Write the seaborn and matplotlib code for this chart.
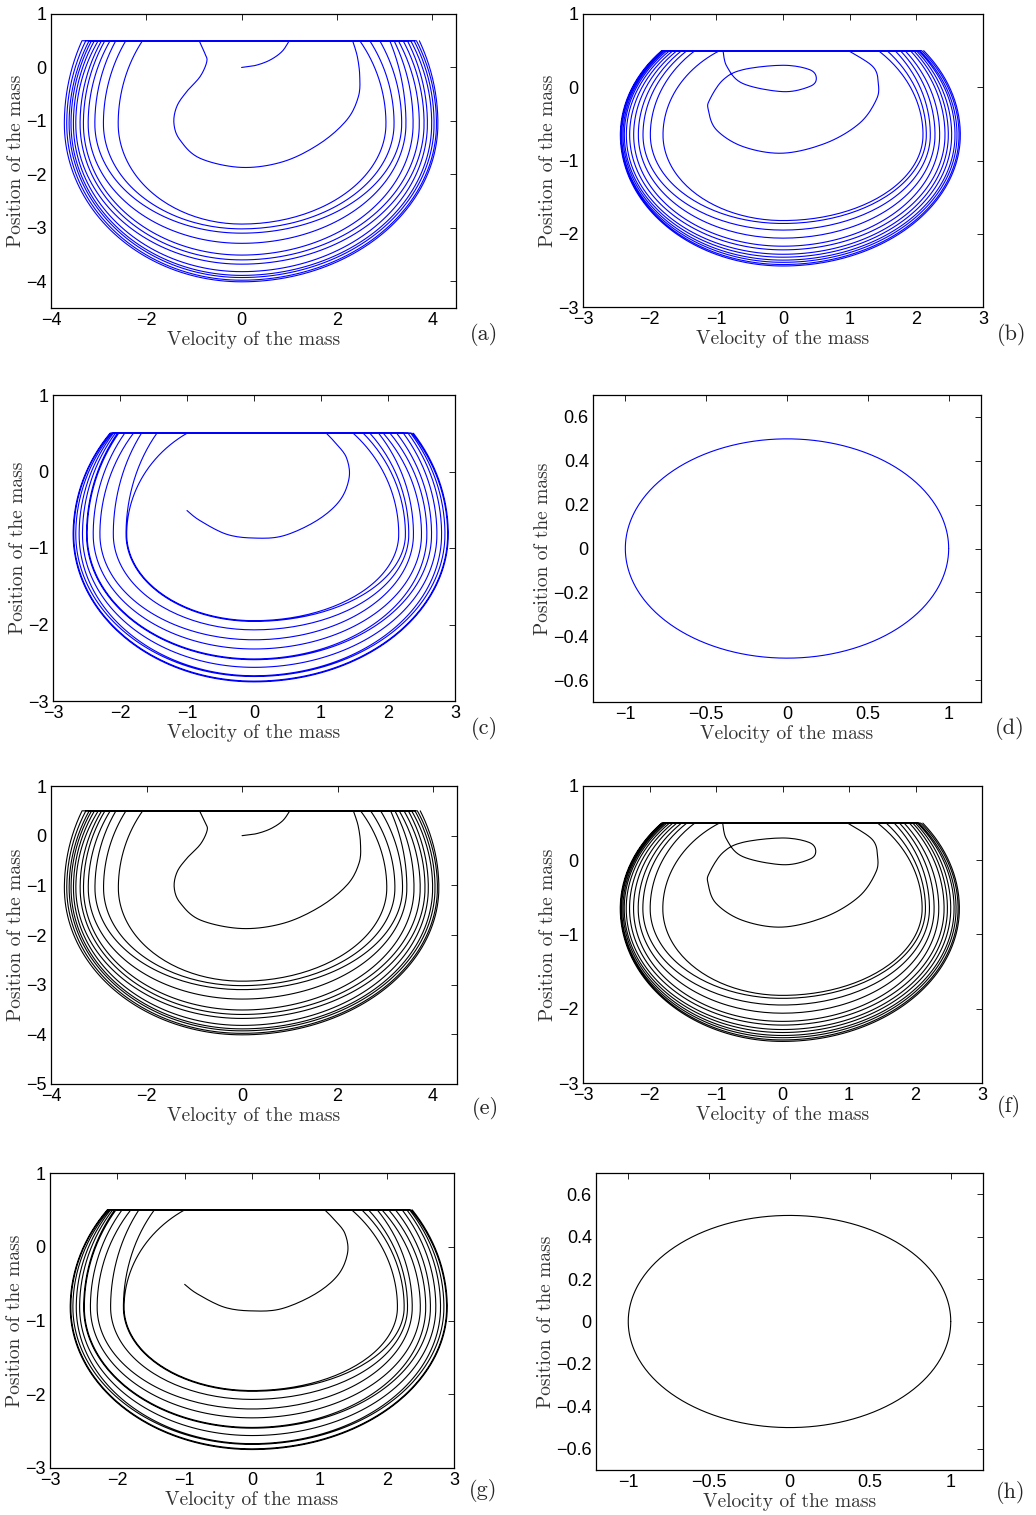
import numpy as np
import pandas as pd
import matplotlib
matplotlib.use("Agg")
import matplotlib.pyplot as plt
import seaborn as sns

# ---- values (velocity on x, position on y) ----
wall = 0.5  # impact position

# panel (a)/(e): start, transient loop, then rings inner -> outer
a_start_v = [0.0, 0.3, 0.6, 0.85, 1.0]
a_start_x = [0.0, 0.04, 0.14, 0.30, 0.5]
a_trans_v = [-0.89, -0.77, -0.73, -0.87, -1.15, -1.36, -1.42, -1.29, -0.87, 0.0,
             0.88, 1.65, 2.21, 2.45, 2.48, 2.43, 2.33]
a_trans_x = [0.5, 0.26, 0.11, -0.17, -0.45, -0.73, -1.05, -1.36, -1.70, -1.87,
             -1.76, -1.42, -0.98, -0.55, -0.17, 0.20, 0.5]
a_left_top = [-2.08, -2.43, -2.64, -2.76, -2.87, -2.94, -3.01, -3.09, -3.15, -3.20, -3.27, -3.35]
a_left_bulge = [-2.59, -2.90, -3.08, -3.22, -3.32, -3.39, -3.48, -3.53, -3.58, -3.62, -3.67, -3.72]
a_bottom = [-2.93, -3.02, -3.10, -3.29, -3.51, -3.60, -3.68, -3.82, -3.89, -3.93, -3.98, -4.01]
a_right_bulge = [3.03, 3.20, 3.36, 3.45, 3.60, 3.73, 3.83, 3.90, 3.99, 4.04, 4.09, 4.12]
a_right_top = [2.48, 2.69, 2.90, 3.11, 3.20, 3.29, 3.39, 3.48, 3.55, 3.62, 3.67, 3.73]
a_bulge_level = -1.05

# panel (b)/(f)
b_trans_v = [-0.90, -0.84, -0.60, 0.0, 0.40, 0.50, 0.40, 0.0, -0.60, -0.90, -1.10,
             -1.12, -1.0, -0.60, 0.0, 0.65, 1.15, 1.40, 1.43, 1.35, 0.98]
b_trans_x = [0.5, 0.28, 0.05, -0.06, 0.01, 0.12, 0.24, 0.30, 0.24, 0.10, -0.17,
             -0.31, -0.58, -0.81, -0.90, -0.76, -0.49, -0.17, 0.05, 0.28, 0.5]
b_left_top = [-0.95, -1.32, -1.44, -1.52, -1.59, -1.65, -1.70, -1.74, -1.77, -1.79, -1.81, -1.82]
b_left_bulge = [-1.80, -1.99, -2.10, -2.17, -2.24, -2.30, -2.35, -2.38, -2.40, -2.42, -2.43, -2.44]
b_bottom = [-1.82, -1.86, -1.95, -2.06, -2.17, -2.22, -2.28, -2.32, -2.36, -2.39, -2.42, -2.44]
b_right_bulge = [2.10, 2.15, 2.21, 2.28, 2.35, 2.43, 2.48, 2.53, 2.58, 2.61, 2.64, 2.66]
b_right_top = [1.43, 1.56, 1.68, 1.76, 1.83, 1.91, 1.96, 2.00, 2.03, 2.05, 2.08, 2.11]
b_bulge_level = -0.65

# panel (c)/(g)
c_trans_v = [-1.0, -0.81, -0.41, 0.0, 0.44, 0.94, 1.28, 1.42, 1.38, 1.23, 1.08]
c_trans_x = [-0.51, -0.64, -0.82, -0.87, -0.84, -0.64, -0.38, -0.08, 0.18, 0.36, 0.5]
c_left_top = [-1.0, -1.45, -1.68, -1.80, -1.93, -2.02, -2.04, -2.07, -2.10, -2.12, -2.14, -2.15]
c_left_bulge = [-1.90, -1.91, -2.10, -2.30, -2.40, -2.49, -2.50, -2.56, -2.61, -2.66, -2.69, -2.70]
c_bottom = [-1.95, -1.96, -2.07, -2.20, -2.32, -2.45, -2.46, -2.56, -2.67, -2.68, -2.74, -2.75]
c_right_bulge = [2.16, 2.26, 2.31, 2.38, 2.50, 2.58, 2.65, 2.73, 2.80, 2.85, 2.89, 2.90]
c_right_top = [1.48, 1.63, 1.73, 1.86, 1.93, 2.03, 2.13, 2.23, 2.30, 2.34, 2.36, 2.38]
c_bulge_level = -0.82

# panel (d)/(h): closed orbit
orbit_v_radius = 1.0
orbit_x_radius = 0.5


def smooth(v, x, k=10):
    # Catmull-Rom through the read points so the curve is drawn round, not angular
    P = np.column_stack([v, x])
    n = len(P)
    out = []
    for i in range(n - 1):
        p0, p1, p2, p3 = P[max(i - 1, 0)], P[i], P[i + 1], P[min(i + 2, n - 1)]
        for t in np.linspace(0, 1, k, endpoint=False):
            out.append(0.5 * (2 * p1 + (-p0 + p2) * t + (2 * p0 - 5 * p1 + 4 * p2 - p3) * t ** 2
                              + (-p0 + 3 * p1 - 3 * p2 + p3) * t ** 3))
    out.append(P[-1])
    out = np.array(out)
    return out[:, 0], out[:, 1]


def arc(vr, c, h, t0, t1, n=50):
    t = np.linspace(t0, t1, n)
    return vr * np.cos(t), c + h * np.sin(t)


def ring(L, vl, B, vr, R, c):
    # one flight between two impacts, built from the read extents
    hl = (wall - c) / np.sqrt(1 - (L / vl) ** 2)
    hr = (wall - c) / np.sqrt(1 - (R / vr) ** 2)
    tl = np.arcsin((wall - c) / hl)
    tr = np.arcsin((wall - c) / hr)
    parts = [arc(vl, c, hl, tl, 0), arc(vl, c, -(c - B), 0, np.pi / 2),
             arc(vr, c, -(c - B), np.pi / 2, 0), arc(vr, c, hr, 0, tr)]
    v = np.concatenate([p[0] for p in parts])
    x = np.concatenate([p[1] for p in parts])
    return v, x


def trajectory(pre_v, pre_x, lt, lb, bo, rb, rt, c):
    vs, xs = [], []
    for pv, px in zip(pre_v, pre_x):
        sv, sx = smooth(pv, px)
        vs.append(sv)
        xs.append(sx)
    for i in range(len(lt)):
        v, x = ring(lt[i], lb[i], bo[i], rb[i], rt[i], c)
        vs.append(v)
        xs.append(x)
    return pd.DataFrame({"v": np.concatenate(vs), "x": np.concatenate(xs)})


df_a = trajectory([a_start_v, a_trans_v], [a_start_x, a_trans_x], a_left_top, a_left_bulge,
                  a_bottom, a_right_bulge, a_right_top, a_bulge_level)
df_b = trajectory([b_trans_v], [b_trans_x], b_left_top, b_left_bulge,
                  b_bottom, b_right_bulge, b_right_top, b_bulge_level)
df_c = trajectory([c_trans_v], [c_trans_x], c_left_top, c_left_bulge,
                  c_bottom, c_right_bulge, c_right_top, c_bulge_level)
th = np.linspace(0, 2 * np.pi, 400)
df_d = pd.DataFrame({"v": orbit_v_radius * np.cos(th), "x": orbit_x_radius * np.sin(th)})

sns.set_theme(style="white")
plt.rcParams["font.family"] = ["Liberation Sans", "DejaVu Sans"]
plt.rcParams["axes.unicode_minus"] = True

fig = plt.figure(figsize=(10.36, 15.15), dpi=100)
W, H = 1036, 1515

# (data, xlim, ylim, xticks, yticks, colour, label, box pixels l,r,t,b, label pos)
panels = [
    (df_a, (-4, 4.5), (-4.5, 1), [-4, -2, 0, 2, 4], [-4, -3, -2, -1, 0, 1], "#0000ff", "(a)", (51, 456, 14, 308), (484, 335)),
    (df_b, (-3, 3), (-3, 1), [-3, -2, -1, 0, 1, 2, 3], [-3, -2, -1, 0, 1], "#0000ff", "(b)", (583, 983, 14, 307), (1012, 335)),
    (df_c, (-3, 3), (-3, 1), [-3, -2, -1, 0, 1, 2, 3], [-3, -2, -1, 0, 1], "#0000ff", "(c)", (53, 455, 395, 701), (484, 728)),
    (df_d, (-1.2, 1.2), (-0.7, 0.7), [-1, -0.5, 0, 0.5, 1], [-0.6, -0.4, -0.2, 0, 0.2, 0.4, 0.6], "#0000ff", "(d)", (593, 981, 395, 702), (1010, 728)),
    (df_a, (-4, 4.5), (-5, 1), [-4, -2, 0, 2, 4], [-5, -4, -3, -2, -1, 0, 1], "black", "(e)", (51, 457, 786, 1084), (485, 1108)),
    (df_b, (-3, 3), (-3, 1), [-3, -2, -1, 0, 1, 2, 3], [-3, -2, -1, 0, 1], "black", "(f)", (583, 982, 786, 1083), (1009, 1107)),
    (df_c, (-3, 3), (-3, 1), [-3, -2, -1, 0, 1, 2, 3], [-3, -2, -1, 0, 1], "black", "(g)", (50, 454, 1173, 1468), (483, 1491)),
    (df_d, (-1.2, 1.2), (-0.7, 0.7), [-1, -0.5, 0, 0.5, 1], [-0.6, -0.4, -0.2, 0, 0.2, 0.4, 0.6], "black", "(h)", (596, 983, 1173, 1470), (1011, 1492)),
]

for df, xl, yl, xt, yt, col, lab, (l, r, t, b), (px, py) in panels:
    ax = fig.add_axes([l / W, 1 - b / H, (r - l) / W, (b - t) / H])
    sns.lineplot(data=df, x="v", y="x", sort=False, estimator=None, color=col,
                 linewidth=0.8, ax=ax)
    ax.set_xlim(*xl)
    ax.set_ylim(*yl)
    ax.set_xticks(xt)
    ax.set_yticks(yt)
    ax.set_xticklabels([f"{v:g}".replace("-", "\u2212") for v in xt])
    ax.set_yticklabels([f"{v:g}".replace("-", "\u2212") for v in yt])
    ax.tick_params(direction="in", length=4, width=0.6, top=True, right=True,
                   labelsize=13, pad=3, colors="black")
    for s in ax.spines.values():
        s.set_linewidth(0.9)
        s.set_color("black")
    ax.set_xlabel("Velocity of the mass", family="cmr10", fontsize=14, labelpad=1, color="#333333")
    ax.set_ylabel("Position of the mass", family="cmr10", fontsize=14, labelpad=1, color="#333333")
    fig.text(px / W, 1 - py / H, lab, family="cmr10", fontsize=16, ha="center", va="center")

fig.savefig("out.png", dpi=100, facecolor="white")
